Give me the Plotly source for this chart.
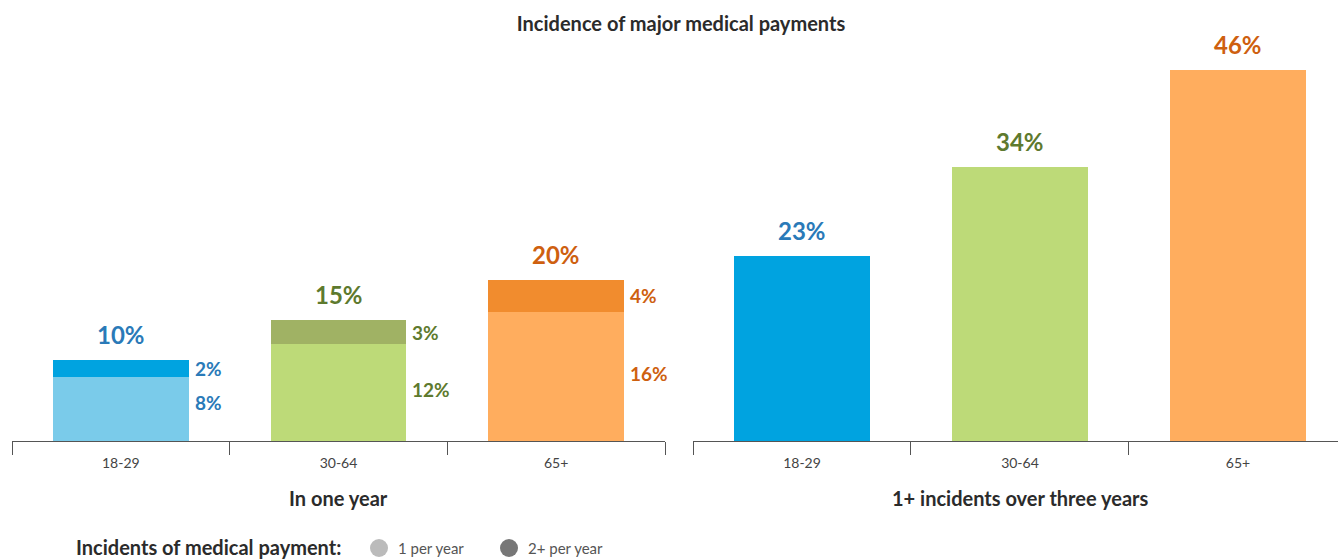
import plotly.graph_objects as go

# Data
age_groups = ["18-29", "30-64", "65+"]
one_per_year = [8, 12, 16]          # in one year, 1 incident
two_plus_per_year = [2, 3, 4]       # in one year, 2+ incidents
one_year_totals = [10, 15, 20]
three_year_any = [23, 34, 46]       # 1+ incidents over three years
legend_labels = ["1 per year", "2+ per year"]

# Styling
light_cols = ["#7ACBEA", "#BDDA78", "#FFAD5E"]
dark_cols = ["#00A3E0", "#A0B264", "#F18C2E"]
right_cols = ["#00A3E0", "#BDDA78", "#FFAD5E"]
label_cols = ["#2A7AB8", "#5E7A2E", "#CE600F"]
legend_cols = ["#BBBBBB", "#777777"]

FONT = "Lato, Open Sans, sans-serif"
BOLD_TXT = "#2b2b2b"

W, H = 1338, 560
T, B = 38, 119
PLOT_H = H - T - B


def py(pixel_y):
    """Convert a pixel row in the page to paper y."""
    return (H - B - pixel_y) / PLOT_H


fig = go.Figure()

fig.add_trace(go.Bar(
    x=age_groups, y=one_per_year, marker=dict(color=light_cols, line=dict(width=0)),
    xaxis="x", yaxis="y", showlegend=False, hoverinfo="skip"))
fig.add_trace(go.Bar(
    x=age_groups, y=two_plus_per_year, marker=dict(color=dark_cols, line=dict(width=0)),
    xaxis="x", yaxis="y", showlegend=False, hoverinfo="skip"))
fig.add_trace(go.Bar(
    x=age_groups, y=three_year_any, marker=dict(color=right_cols, line=dict(width=0)),
    xaxis="x2", yaxis="y2", showlegend=False, hoverinfo="skip"))

annotations = []
for i, g in enumerate(age_groups):
    # Totals above the bars
    annotations.append(dict(
        x=g, y=one_year_totals[i], xref="x", yref="y", text=f"{one_year_totals[i]}%",
        showarrow=False, yanchor="bottom", yshift=9,
        font=dict(family=FONT, size=24, color=label_cols[i], weight="bold")))
    annotations.append(dict(
        x=g, y=three_year_any[i], xref="x2", yref="y2", text=f"{three_year_any[i]}%",
        showarrow=False, yanchor="bottom", yshift=9,
        font=dict(family=FONT, size=24, color=label_cols[i], weight="bold")))
    # Segment labels to the right of the stacked bars
    annotations.append(dict(
        x=i + 0.312, y=one_per_year[i] / 2, xref="x", yref="y", text=f"{one_per_year[i]}%",
        showarrow=False, xanchor="left", xshift=4, yshift=6 if i == 0 else 3,
        font=dict(family=FONT, size=19, color=label_cols[i], weight="bold")))
    annotations.append(dict(
        x=i + 0.312, y=one_per_year[i] + two_plus_per_year[i] / 2, xref="x", yref="y",
        text=f"{two_plus_per_year[i]}%",
        showarrow=False, xanchor="left", xshift=4,
        font=dict(family=FONT, size=19, color=label_cols[i], weight="bold")))

# Panel titles
annotations.append(dict(
    x=0.5, y=py(498), xref="x domain", yref="paper", text="In one year", showarrow=False,
    yanchor="middle", font=dict(family=FONT, size=20, color=BOLD_TXT, weight="bold")))
annotations.append(dict(
    x=(1020 - 693) / (W - 693), y=py(498), xref="x2 domain", yref="paper",
    text="1+ incidents over three years", showarrow=False, yanchor="middle",
    font=dict(family=FONT, size=20, color=BOLD_TXT, weight="bold")))

# Key at the bottom
KEY_Y = 547
annotations.append(dict(
    x=74 / W, y=py(KEY_Y), xref="paper", yref="paper", text="Incidents of medical payment:",
    showarrow=False, xanchor="left", yanchor="middle",
    font=dict(family=FONT, size=20, color=BOLD_TXT, weight="bold")))
shapes = []
key_x = [379, 509]
for lbl, col, kx in zip(legend_labels, legend_cols, key_x):
    shapes.append(dict(
        type="circle", xref="paper", yref="paper", xsizemode="pixel", ysizemode="pixel",
        xanchor=kx / W, yanchor=py(KEY_Y + 1), x0=-9, x1=9, y0=-9, y1=9,
        fillcolor=col, line=dict(width=0)))
    annotations.append(dict(
        x=(kx + 17) / W, y=py(KEY_Y + 1), xref="paper", yref="paper", text=lbl,
        showarrow=False, xanchor="left", yanchor="middle",
        font=dict(family=FONT, size=15, color="#555555")))

axis_common = dict(
    type="category", showline=True, linecolor="#555555", linewidth=1,
    ticks="outside", tickson="boundaries", ticklen=13, tickcolor="#555555", tickwidth=1,
    ticklabelstandoff=9, showgrid=False, zeroline=False,
    tickfont=dict(family=FONT, size=14, color="#444444"), fixedrange=True)

fig.update_layout(
    width=W, height=H,
    margin=dict(l=0, r=0, t=T, b=B),
    paper_bgcolor="white", plot_bgcolor="white",
    barmode="stack", bargap=0.376, showlegend=False,
    title=dict(text="Incidence of major medical payments", x=681 / W, xanchor="center",
               y=1 - 24 / H, yanchor="middle",
               font=dict(family=FONT, size=20, color=BOLD_TXT, weight="bold")),
    xaxis=dict(domain=[12 / W, 665 / W], range=[-0.5, 2.5], **axis_common),
    xaxis2=dict(domain=[693 / W, 1.0], range=[-0.5, 2.459], anchor="y2", **axis_common),
    yaxis=dict(range=[0, 50], visible=False, fixedrange=True),
    yaxis2=dict(range=[0, 50], visible=False, anchor="x2", overlaying="y", fixedrange=True),
    annotations=annotations,
    shapes=shapes,
)

fig.write_html("out.html")
